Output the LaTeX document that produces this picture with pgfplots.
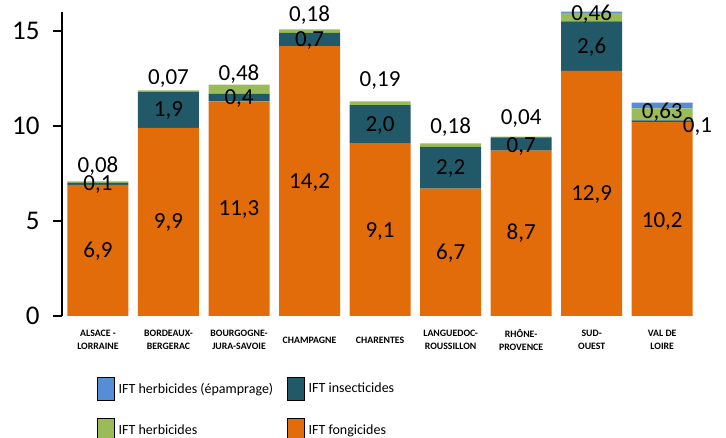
\documentclass[border=0pt]{standalone}
\usepackage{pgfplots}
\usepackage{pgfplotstable}
\pgfplotsset{compat=1.18}
\usepackage{fontspec}
\setmainfont{Carlito}
\definecolor{cfong}{HTML}{E36C0A}
\definecolor{cins}{HTML}{215968}
\definecolor{cherb}{HTML}{9BBB59}
\definecolor{cepa}{HTML}{558ED5}

\pgfplotstableread{
x fong ins herb epa
0 6.9 0.1 0.08 0
1 9.9 1.9 0.07 0
2 11.3 0.4 0.48 0
3 14.2 0.7 0.18 0
4 9.1 2.0 0.19 0
5 6.7 2.2 0.18 0
6 8.7 0.7 0.04 0
7 12.9 2.6 0.46 0.06
8 10.2 0.1 0.63 0.3
}\datatable

\pgfplotstableread{
x y lab
0 3.4 {6,9}
0 6.9 {0,1}
0 7.9 {0,08}
1 4.9 {9,9}
1 10.8 {1,9}
1 12.5 {0,07}
2 5.6 {11,3}
2 11.45 {0,4}
2 12.75 {0,48}
3 7.0 {14,2}
3 14.5 {0,7}
3 15.85 {0,18}
4 4.45 {9,1}
4 10.0 {2,0}
4 12.4 {0,19}
5 3.3 {6,7}
5 7.75 {2,2}
5 9.95 {0,18}
6 4.35 {8,7}
6 8.9 {0,7}
6 10.4 {0,04}
7 6.4 {12,9}
7 14.15 {2,6}
7 15.9 {0,46}
8 4.95 {10,2}
8 10.7 {0,63}
8.5 9.95 {0,1}
}\labtable

\begin{document}
\begin{tikzpicture}
\begin{axis}[
  name=main,
  scale only axis, width=639pt, height=304pt,
  ybar stacked, bar width=61pt,
  xmin=-0.51, xmax=8.55, ymin=0, ymax=16,
  axis y line*=left, axis x line*=bottom,
  x axis line style={draw=none},
  y axis line style={line width=1.4pt, -},
  xtick={0,...,8},
  xticklabels={{ALSACE -\\LORRAINE},{BORDEAUX-\\BERGERAC},{BOURGOGNE-\\JURA-SAVOIE},{CHAMPAGNE},{CHARENTES},{LANGUEDOC-\\ROUSSILLON},{RHÔNE-\\PROVENCE},{SUD-\\OUEST},{VAL DE\\LOIRE}},
  xtick style={draw=none},
  ytick={0,5,10,15},
  ytick style={line width=1.2pt, black},
  tick align=outside, major tick length=9pt,
  /pgf/number format/assume math mode=true,
  yticklabel style={font=\fontsize{27}{30}\selectfont, xshift=-10pt},
  xticklabel style={font=\bfseries\fontsize{9.8}{13}\selectfont, align=center, anchor=center, yshift=-15pt},
]
\addplot[fill=cfong, draw=none] table[x=x, y=fong] \datatable;
\addplot[fill=cins, draw=none] table[x=x, y=ins] \datatable;
\addplot[fill=cherb, draw=none] table[x=x, y=herb] \datatable;
\addplot[fill=cepa, draw=none] table[x=x, y=epa] \datatable;
\end{axis}
\begin{axis}[
  scale only axis, width=639pt, height=304pt,
  xmin=-0.51, xmax=8.55, ymin=0, ymax=16,
  hide axis, clip=false,
  legend columns=2,
  legend cell align=left,
  legend image code/.code={\fill[#1] (0pt,-11.5pt) rectangle (17pt,11.5pt);},
  legend style={at={(0.0548,-0.20)}, anchor=north west, draw=none, fill=none,
    inner sep=0pt, font=\fontsize{14}{16}\selectfont,
    nodes={inner xsep=4pt},
    /tikz/every even column/.append style={column sep=10pt},
    row sep=18pt},
]
\addplot[forget plot, draw=none, mark=none, nodes near coords, point meta=explicit symbolic,
  nodes near coords align=center,
  every node near coord/.append style={anchor=center, font=\fontsize{23}{27}\selectfont, text=black}]
  table[x=x, y=y, meta=lab] \labtable;
\addlegendimage{fill=cepa}
\addlegendentry{IFT herbicides (épamprage)}
\addlegendimage{fill=cins}
\addlegendentry{IFT insecticides}
\addlegendimage{fill=cherb}
\addlegendentry{IFT herbicides}
\addlegendimage{fill=cfong}
\addlegendentry{IFT fongicides}
\end{axis}
\pgfresetboundingbox
\useasboundingbox ([xshift=-62pt,yshift=-122pt]main.south west) rectangle ([xshift=664pt,yshift=316pt]main.south west);
\end{tikzpicture}
\end{document}
